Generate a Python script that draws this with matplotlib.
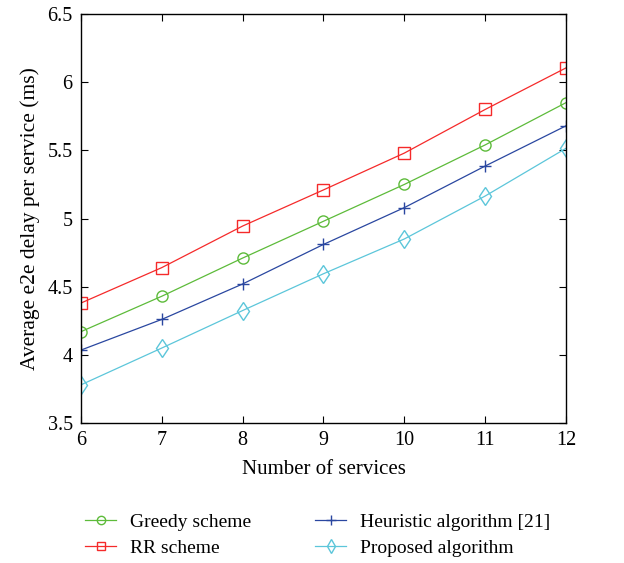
import matplotlib.pyplot as plt

# data
services = [6, 7, 8, 9, 10, 11, 12]
greedy = [4.17, 4.43, 4.71, 4.98, 5.25, 5.54, 5.85]
rr = [4.38, 4.64, 4.945, 5.21, 5.48, 5.80, 6.105]
heuristic = [4.035, 4.26, 4.52, 4.81, 5.08, 5.385, 5.68]
proposed = [3.78, 4.05, 4.325, 4.595, 4.85, 5.165, 5.515]

x_ticks = [6, 7, 8, 9, 10, 11, 12]
y_ticks = [3.5, 4, 4.5, 5, 5.5, 6, 6.5]
y_tick_labels = ["3.5", "4", "4.5", "5", "5.5", "6", "6.5"]

plt.rcParams["font.family"] = ["Liberation Serif", "DejaVu Serif"]

fig = plt.figure(figsize=(6.24, 5.63), dpi=100)
ax = fig.add_axes([0.1298, 0.2487, 0.7772, 0.7263])

style = dict(linewidth=0.9, markerfacecolor="none", markeredgewidth=1.0)
ax.plot(services, greedy, marker="o", markersize=8, color="#5dbb3a",
        label="Greedy scheme", **style)
ax.plot(services, rr, marker="s", markersize=8.5, color="#f52a2a",
        label="RR scheme", **style)
ax.plot(services, heuristic, marker="+", markersize=9, color="#2a47a0",
        label="Heuristic algorithm [21]", **style)
ax.plot(services, proposed, marker="d", markersize=9.5, color="#5cc6da",
        label="Proposed algorithm", **style)

ax.set_xlim(6, 12)
ax.set_ylim(3.5, 6.5)
ax.set_xticks(x_ticks)
ax.set_yticks(y_ticks)
ax.set_yticklabels(y_tick_labels)
ax.tick_params(direction="in", top=True, right=True, labelsize=14.5,
               length=5, width=0.8, pad=6)
for sp in ax.spines.values():
    sp.set_linewidth(1.0)

ax.set_xlabel("Number of services", fontsize=15, labelpad=7)
ax.set_ylabel("Average e2e delay per service (ms)", fontsize=15.5, labelpad=5)

fig.legend(loc="center", bbox_to_anchor=(0.509, 0.0497), ncol=2,
           frameon=False, fontsize=14, handlelength=1.6, markerscale=0.75,
           columnspacing=3.3, labelspacing=0.45, handletextpad=0.7)

fig.savefig("out.png", dpi=100)
